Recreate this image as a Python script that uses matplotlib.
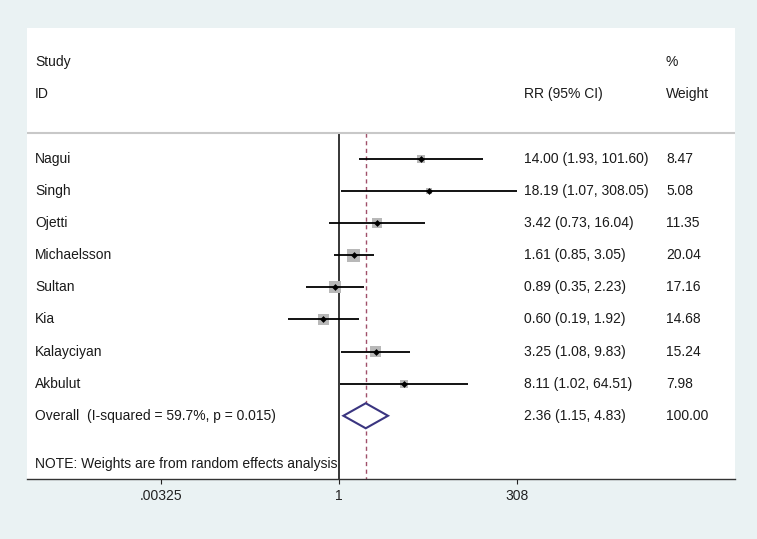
import numpy as np
import matplotlib
matplotlib.use('Agg')
from matplotlib import pyplot as plt
from matplotlib import transforms
from matplotlib.ticker import NullLocator

plt.rcParams['font.family'] = ['Liberation Sans', 'DejaVu Sans']

studies = ['Nagui', 'Singh', 'Ojetti', 'Michaelsson', 'Sultan', 'Kia',
           'Kalayciyan', 'Akbulut']
rr = [14.00, 18.19, 3.42, 1.61, 0.89, 0.60, 3.25, 8.11]
lo = [1.93, 1.07, 0.73, 0.85, 0.35, 0.19, 1.08, 1.02]
hi = [101.60, 308.05, 16.04, 3.05, 2.23, 1.92, 9.83, 64.51]
weights = [8.47, 5.08, 11.35, 20.04, 17.16, 14.68, 15.24, 7.98]

overall_label = 'Overall  (I-squared = 59.7%, p = 0.015)'
overall = (2.36, 1.15, 4.83)
overall_weight = 100.00

xticks = [0.00325, 1, 308]
xtick_labels = ['.00325', '1', '308']

bg = '#eaf2f3'
txt = '#1a1a1a'

fig = plt.figure(figsize=(7.57, 5.39), dpi=100, facecolor=bg)
ax = fig.add_axes([27 / 757, 60 / 539, 708 / 757, 451 / 539])
ax.set_facecolor('white')
ax.set_xscale('log')
ax.set_xlim(np.exp(-10.05), np.exp(12.75))
ax.set_ylim(9.97, -4.08)

rows = np.arange(len(studies))
orow = len(studies)

# header
tr = transforms.blended_transform_factory(ax.transAxes, ax.transData)
col_name, col_ci, col_w = 0.0113, 0.702, 0.9025
fs = 10
ax.text(col_name, -3.02, 'Study', transform=tr, va='center', fontsize=fs, color=txt)
ax.text(col_w, -3.02, '%', transform=tr, va='center', fontsize=fs, color=txt)
ax.text(col_name, -2.02, 'ID', transform=tr, va='center', fontsize=fs, color=txt)
ax.text(col_ci, -2.02, 'RR (95% CI)', transform=tr, va='center', fontsize=fs, color=txt)
ax.text(col_w, -2.02, 'Weight', transform=tr, va='center', fontsize=fs, color=txt)
ax.axhline(-0.81, color='#c8c8c8', lw=1.5)

# reference lines
ax.vlines(1, -0.81, 9.97, color='black', lw=1.1, zorder=1)
ax.vlines(overall[0], -0.81, 9.97, color='#a0506a', lw=1,
          linestyles=(0, (3, 2.5)), zorder=1)

# studies: grey weight boxes, CI lines, point estimates
ax.scatter(rr, rows, s=4.3 * np.array(weights), marker='s',
           color='#b8b8b8', zorder=2, linewidths=0)
ax.hlines(rows, lo, hi, color='black', lw=1.3, zorder=3)
ax.scatter(rr, rows, s=12, marker='D', color='black', zorder=4, linewidths=0)

for i, name in enumerate(studies):
    ax.text(col_name, i, name, transform=tr, va='center', fontsize=fs, color=txt)
    ax.text(col_ci, i, f'{rr[i]:.2f} ({lo[i]:.2f}, {hi[i]:.2f})',
            transform=tr, va='center', fontsize=fs, color=txt)
    ax.text(col_w, i, f'{weights[i]:.2f}', transform=tr, va='center',
            fontsize=fs, color=txt)

# overall diamond
est, olo, ohi = overall
ax.fill([olo, est, ohi, est], [orow, orow - 0.39, orow, orow + 0.39],
        facecolor='white', edgecolor='#3a3580', lw=1.5, zorder=5)
ax.text(col_name, orow, overall_label, transform=tr, va='center',
        fontsize=fs, color=txt)
ax.text(col_ci, orow, f'{est:.2f} ({olo:.2f}, {ohi:.2f})', transform=tr,
        va='center', fontsize=fs, color=txt)
ax.text(col_w, orow, f'{overall_weight:.2f}', transform=tr, va='center',
        fontsize=fs, color=txt)

ax.text(col_name, 9.5, 'NOTE: Weights are from random effects analysis',
        transform=tr, va='center', fontsize=fs, color=txt)

# axes styling
for s in ['top', 'left', 'right']:
    ax.spines[s].set_visible(False)
ax.spines['bottom'].set_color('#333333')
ax.spines['bottom'].set_linewidth(1)
ax.set_yticks([])
ax.set_xticks(xticks)
ax.set_xticklabels(xtick_labels)
ax.xaxis.set_minor_locator(NullLocator())
ax.tick_params(axis='x', length=3.5, width=0.8, pad=3.5, labelsize=fs,
               colors='#222222')

fig.savefig('out.png', dpi=100, facecolor=bg)
